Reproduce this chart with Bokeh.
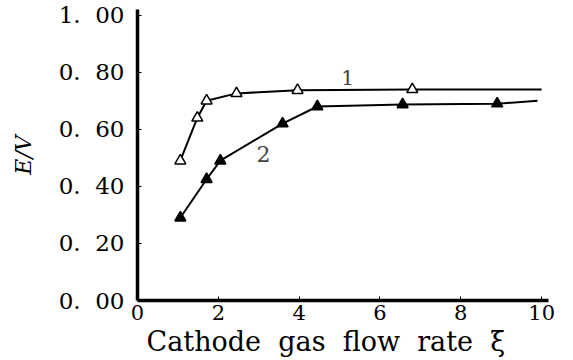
from bokeh.plotting import figure
from bokeh.models import FixedTicker, Label, Range1d
from bokeh.embed import file_html
from bokeh.resources import INLINE

# Curve 1 (open triangles)
x1 = [1.06, 1.48, 1.71, 2.45, 3.96, 6.8]
y1 = [0.49, 0.64, 0.70, 0.726, 0.737, 0.74]
x1_end = 10.0
y1_end = 0.74
# Curve 2 (filled triangles)
x2 = [1.06, 1.71, 2.05, 3.59, 4.45, 6.56, 8.9]
y2 = [0.29, 0.425, 0.49, 0.62, 0.68, 0.687, 0.69]
x2_end = 9.9
y2_end = 0.70

NB = "\u00a0"
y_ticks = [0.0, 0.2, 0.4, 0.6, 0.8, 1.0]
y_tick_labels = ["0." + NB * 2 + "00", "0." + NB * 2 + "20", "0." + NB * 2 + "40",
                 "0." + NB * 2 + "60", "0." + NB * 2 + "80", "1." + NB * 2 + "00"]
x_ticks = [0, 2, 4, 6, 8, 10]
x_title_words = ["Cathode", "gas", "flow", "rate", "\u03be"]

SERIF = "DejaVu Serif"

p = figure(width=573, height=360, output_backend="svg", toolbar_location=None,
           x_range=Range1d(0, 10.17), y_range=Range1d(0, 1.02),
           min_border_left=137, min_border_right=25, min_border_top=9,
           min_border_bottom=60)
p.outline_line_color = None
p.grid.visible = False
p.background_fill_color = "white"
p.border_fill_color = "white"

for ax in (p.xaxis[0], p.yaxis[0]):
    ax.axis_line_width = 3.5
    ax.axis_line_color = "black"
    ax.major_tick_in = 4
    ax.major_tick_out = 0
    ax.major_tick_line_width = 1
    ax.minor_tick_line_color = None
    ax.major_label_text_font = SERIF
    ax.major_label_text_color = "black"
    ax.axis_label_text_font = SERIF
    ax.axis_label_text_color = "black"

p.yaxis.ticker = FixedTicker(ticks=y_ticks)
p.yaxis.major_label_overrides = {t: s for t, s in zip(y_ticks, y_tick_labels)}
p.yaxis.major_label_text_font_size = "23px"
p.yaxis.major_label_standoff = 13
p.yaxis.axis_label = "E/V"
p.yaxis.axis_label_text_font_style = "italic"
p.yaxis.axis_label_text_font_size = "22px"
p.yaxis.axis_label_standoff = 20

p.xaxis.ticker = FixedTicker(ticks=x_ticks)
p.xaxis.major_label_text_font_size = "21px"
p.xaxis.major_label_standoff = 4
p.xaxis.axis_label = (" " + NB).join(x_title_words) + NB * 4
p.xaxis.axis_label_text_font_style = "normal"
p.xaxis.axis_label_text_font_size = "27px"
p.xaxis.axis_label_standoff = 3

# lines
p.line(x1 + [x1_end], y1 + [y1_end], line_color="black", line_width=2)
p.line(x2 + [x2_end], y2 + [y2_end], line_color="black", line_width=2)
p.scatter(x1, y1, marker="triangle", size=11, fill_color="white",
          line_color="black", line_width=1.5)
p.scatter(x2, y2, marker="triangle", size=11, fill_color="black",
          line_color="black", line_width=1.5)

# curve labels
p.add_layout(Label(x=5.2, y=0.78, text="1", text_font=SERIF,
                   text_font_size="20px", text_align="center", text_baseline="middle"))
p.add_layout(Label(x=3.12, y=0.515, text="2", text_font=SERIF,
                   text_font_size="22px", text_align="center", text_baseline="middle"))

open("out.html", "w").write(file_html(p, INLINE))
